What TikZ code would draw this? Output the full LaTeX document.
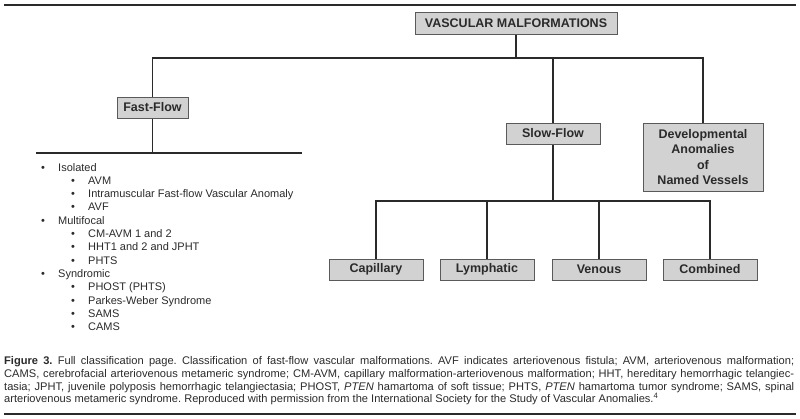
\documentclass[tikz,border=0pt]{standalone}
\usepackage{fontspec}
\setmainfont{Liberation Sans}
\definecolor{boxgray}{HTML}{D2D2D2}
\definecolor{edgegray}{HTML}{5A5A5A}
\definecolor{inkgray}{HTML}{2A2A2A}
\tikzset{
  classbox/.style={draw=edgegray, fill=boxgray, line width=1pt, inner sep=0pt,
    minimum height=21pt, align=center, text=inkgray,
    font=\fontsize{12.5}{15.3}\selectfont\bfseries},
  branch/.style={draw=inkgray, line width=1.4pt},
  listitem/.style={anchor=base west, inner sep=0pt, text=inkgray,
    font=\fontsize{11}{13}\selectfont},
}
\begin{document}
\begin{tikzpicture}[x=1pt, y=-1pt]
  \useasboundingbox (0,0) rectangle (800,418);
  \draw[line width=1.3pt, inkgray] (4,5) -- (796,5);

  % classification boxes
  \node[classbox, minimum width=202pt, minimum height=22pt] (vm) at (516,23) {VASCULAR MALFORMATIONS};
  \node[classbox, minimum width=71pt] (fast) at (152.5,107.5) {Fast-Flow};
  \node[classbox, minimum width=94pt] (slow) at (553,133.5) {Slow-Flow};
  \node[classbox, minimum width=120pt, minimum height=68pt] (dev) at (703,157) {Developmental\\Anomalies\\of\\Named Vessels};
  \node[classbox, minimum width=94pt] (cap) at (376,269.5) {Capillary};
  \node[classbox, minimum width=94pt] (lym) at (487,269.5) {Lymphatic};
  \node[classbox, minimum width=94pt] (ven) at (599,269.5) {Venous};
  \node[classbox, minimum width=94pt] (comb) at (710,269.5) {Combined};

  % connectors
  \coordinate (topbus) at (516,58);
  \draw[branch] (vm.south) -- (topbus);
  \draw[branch] (topbus) -| (fast.north);
  \draw[branch] (topbus) -| (slow.north);
  \draw[branch] (topbus) -| (dev.north);

  \coordinate (fastfoot) at (152.5,153);
  \coordinate (fastleft) at (36,153);
  \coordinate (fastright) at (302,153);
  \draw[branch] (fast.south) -- (fastfoot);
  \draw[branch] (fastleft) -- (fastright);

  \coordinate (slowbus) at (553,201);
  \draw[branch] (slow.south) -- (slowbus);
  \draw[branch] (slowbus) -| (cap.north);
  \draw[branch] (slowbus) -| (lym.north);
  \draw[branch] (slowbus) -| (ven.north);
  \draw[branch] (slowbus) -| (comb.north);

  % fast-flow list
  \foreach \lvl/\txt [count=\i] in {1/Isolated, 2/AVM, 2/Intramuscular Fast-flow Vascular Anomaly, 2/AVF,
      1/Multifocal, 2/CM-AVM 1 and 2, 2/HHT1 and 2 and JPHT, 2/PHTS,
      1/Syndromic, 2/PHOST (PHTS), 2/Parkes-Weber Syndrome, 2/SAMS, 2/CAMS}
  {
    \pgfmathsetmacro\by{171+(\i-1)*13.33}
    \pgfmathsetmacro\bx{\lvl==1 ? 41 : 71}
    \node[listitem] (dot\i) at (\bx,\by) {\textbullet};
    \node[listitem] (item\i) at (\bx+17,\by) {\txt};
  }

  % caption
  \node[anchor=north west, inner sep=0pt, text width=790pt, align=justify, text=inkgray,
    font=\fontsize{11.1}{12.7}\selectfont\frenchspacing] (caption) at (4,356.5)
  {\textbf{Figure 3.} Full classification page. Classification of fast-flow vascular malformations. AVF indicates arteriovenous fistula; AVM, arteriovenous malformation;\linebreak
  CAMS, cerebrofacial arteriovenous metameric syndrome; CM-AVM, capillary malformation-arteriovenous malformation; HHT, hereditary hemorrhagic telangiec-\linebreak
  tasia; JPHT, juvenile polyposis hemorrhagic telangiectasia; PHOST, \textit{PTEN} hamartoma of soft tissue; PHTS, \textit{PTEN} hamartoma tumor syndrome; SAMS, spinal\linebreak
  arteriovenous metameric syndrome. Reproduced with permission from the International Society for the Study of Vascular Anomalies.\textsuperscript{4}};
  \draw[line width=1.5pt, inkgray] (4,414) -- (796,414);
\end{tikzpicture}
\end{document}
